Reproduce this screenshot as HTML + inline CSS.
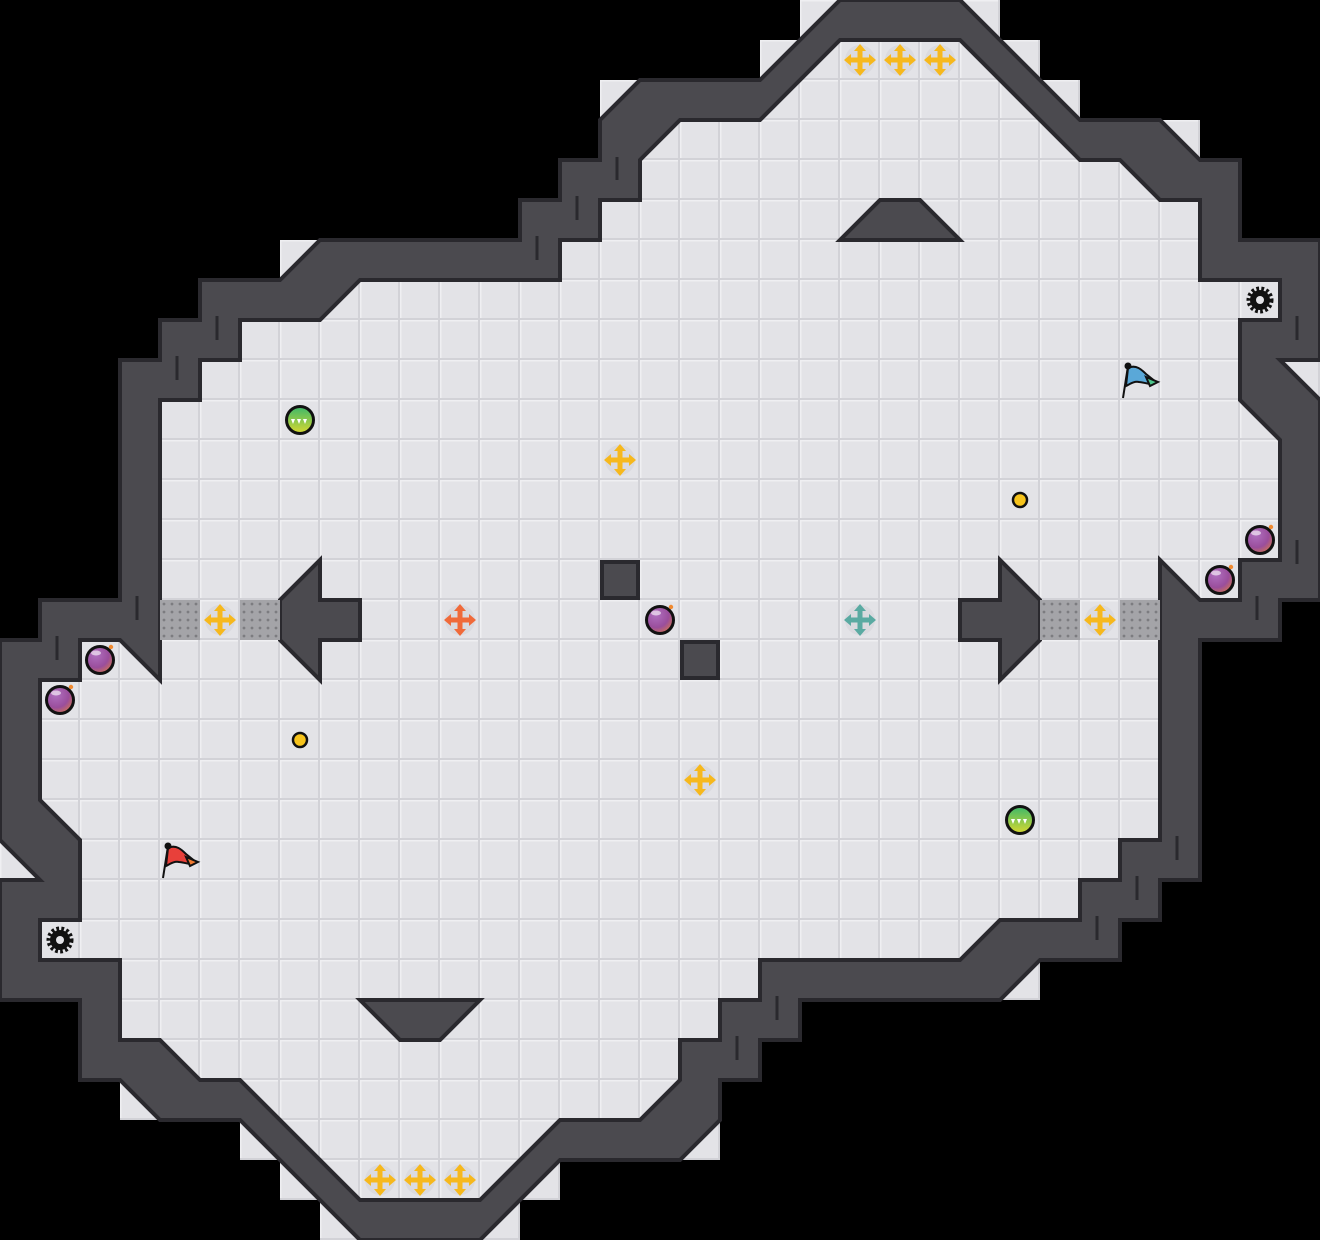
<!DOCTYPE html>
<html><head><meta charset="utf-8"><style>html,body{margin:0;padding:0;background:#000}svg{display:block}</style></head>
<body>
<svg width="1320" height="1240" viewBox="0 0 1320 1240" xmlns="http://www.w3.org/2000/svg">
<defs>
<pattern id="fl" width="40" height="40" patternUnits="userSpaceOnUse">
<rect width="40" height="40" fill="#e3e3e7"/>
<rect x="0" y="0" width="40" height="1.5" fill="#efeff2"/>
<rect x="0" y="0" width="1.5" height="40" fill="#efeff2"/>
<rect x="0" y="38" width="40" height="2" fill="#d2d2d7"/>
<rect x="38" y="0" width="2" height="40" fill="#d2d2d7"/>
</pattern>
<pattern id="gt" width="8" height="8" patternUnits="userSpaceOnUse">
<rect width="8" height="8" fill="#a4a4a8"/>
<circle cx="4" cy="4" r="1.4" fill="#7c7c80"/>
</pattern>
<radialGradient id="bomb" cx="0.35" cy="0.3" r="0.8">
<stop offset="0" stop-color="#b070c0"/><stop offset="0.6" stop-color="#9a4e9c"/><stop offset="1" stop-color="#d8784a"/>
</radialGradient>
<linearGradient id="grn" x1="0" y1="0" x2="0" y2="1">
<stop offset="0" stop-color="#3cb86a"/><stop offset="1" stop-color="#d8d830"/>
</linearGradient>
<g id="arrows">
<rect x="-2.5" y="-10" width="5" height="20"/>
<rect x="-10" y="-2.5" width="20" height="5"/>
<polygon points="0,-16 -6,-9 6,-9"/>
<polygon points="0,16 -6,9 6,9"/>
<polygon points="-16,0 -9,-6 -9,6"/>
<polygon points="16,0 9,-6 9,6"/>
</g>
<g id="boost"><circle r="15" fill="#d6d6dc" opacity="0.7"/><use href="#arrows" fill="#f6b81c"/></g>
<g id="bomb1"><circle r="13.5" fill="url(#bomb)" stroke="#111" stroke-width="3"/><ellipse cx="-4" cy="-7" rx="5" ry="2.5" fill="#fff" opacity="0.6"/><circle cx="11" cy="-13" r="2.2" fill="#f08a30"/></g>
<g id="pw"><circle r="13.5" fill="url(#grn)" stroke="#111" stroke-width="3"/><polygon points="-9,-1 -5,-1 -7,4" fill="#fff"/><polygon points="-3,-1 1,-1 -1,4" fill="#fff"/><polygon points="3,-1 7,-1 5,4" fill="#fff"/></g>
<g id="ball"><circle r="7" fill="#f7c41c" stroke="#111" stroke-width="2.5"/></g>
<g id="gear"><circle r="11" fill="none" stroke="#111" stroke-width="5" stroke-dasharray="2.6 2.2"/><circle r="10" fill="#111"/><circle r="4" fill="#e3e3e7"/></g>
</defs>

<rect width="1320" height="1240" fill="url(#fl)"/>
<path fill-rule="evenodd" fill="#000" d="M0,0H1320V1240H0Z
M900,0 L840,0 L760,80 L640,80 L600,120 L600,160 L560,160 L560,200 L520,200 L520,240 L320,240 L280,280 L200,280 L200,320 L160,320 L160,360 L120,360 L120,600 L40,600 L40,640 L0,640 L0,840 L40,880 L0,880 L0,1000 L80,1000 L80,1080 L120,1080 L160,1120 L240,1120 L360,1240 L480,1240 L560,1160 L680,1160 L720,1120 L720,1080 L760,1080 L760,1040 L800,1040 L800,1000 L1000,1000 L1040,960 L1120,960 L1120,920 L1160,920 L1160,880 L1200,880 L1200,640 L1280,640 L1280,600 L1320,600 L1320,400 L1280,360 L1320,360 L1320,240 L1240,240 L1240,160 L1200,160 L1160,120 L1080,120 L960,0 Z"/>
<g fill="url(#fl)">
<rect x="800" y="0" width="40" height="40"/><rect x="760" y="40" width="40" height="40"/><rect x="600" y="80" width="40" height="40"/><rect x="280" y="240" width="40" height="40"/><rect x="0" y="840" width="40" height="40"/><rect x="120" y="1080" width="40" height="40"/><rect x="240" y="1120" width="40" height="40"/><rect x="280" y="1160" width="40" height="40"/><rect x="320" y="1200" width="40" height="40"/>
<rect x="480" y="1200" width="40" height="40"/><rect x="520" y="1160" width="40" height="40"/><rect x="680" y="1120" width="40" height="40"/><rect x="1000" y="960" width="40" height="40"/><rect x="1280" y="360" width="40" height="40"/><rect x="1160" y="120" width="40" height="40"/><rect x="1040" y="80" width="40" height="40"/><rect x="1000" y="40" width="40" height="40"/><rect x="960" y="0" width="40" height="40"/>
</g>

<path fill-rule="evenodd" fill="#4b4a4f" stroke="#2a292e" stroke-width="4" stroke-linejoin="miter" d="
M900,0 L840,0 L760,80 L640,80 L600,120 L600,160 L560,160 L560,200 L520,200 L520,240 L320,240 L280,280 L200,280 L200,320 L160,320 L160,360 L120,360 L120,600 L40,600 L40,640 L0,640 L0,840 L40,880 L0,880 L0,1000 L80,1000 L80,1080 L120,1080 L160,1120 L240,1120 L360,1240 L480,1240 L560,1160 L680,1160 L720,1120 L720,1080 L760,1080 L760,1040 L800,1040 L800,1000 L1000,1000 L1040,960 L1120,960 L1120,920 L1160,920 L1160,880 L1200,880 L1200,640 L1280,640 L1280,600 L1320,600 L1320,400 L1280,360 L1320,360 L1320,240 L1240,240 L1240,160 L1200,160 L1160,120 L1080,120 L960,0 Z
M900,40 L840,40 L760,120 L680,120 L640,160 L640,200 L600,200 L600,240 L560,240 L560,280 L360,280 L320,320 L240,320 L240,360 L200,360 L200,400 L160,400 L160,680 L120,640 L80,640 L80,680 L40,680 L40,800 L80,840 L80,920 L40,920 L40,960 L120,960 L120,1040 L160,1040 L200,1080 L240,1080 L360,1200 L480,1200 L560,1120 L640,1120 L680,1080 L680,1040 L720,1040 L720,1000 L760,1000 L760,960 L960,960 L1000,920 L1080,920 L1080,880 L1120,880 L1120,840 L1160,840 L1160,560 L1200,600 L1240,600 L1240,560 L1280,560 L1280,440 L1240,400 L1240,320 L1280,320 L1280,280 L1200,280 L1200,200 L1160,200 L1120,160 L1080,160 L960,40 Z"/>
<g stroke="#2a292e" stroke-width="3">
<line x1="617" y1="157" x2="617" y2="180"/><line x1="577" y1="196" x2="577" y2="220"/><line x1="537" y1="236" x2="537" y2="260"/>
<line x1="217" y1="316" x2="217" y2="340"/><line x1="177" y1="356" x2="177" y2="380"/><line x1="137" y1="596" x2="137" y2="620"/><line x1="57" y1="636" x2="57" y2="660"/>
<line x1="1297" y1="316" x2="1297" y2="340"/>
<line x1="1297" y1="540" x2="1297" y2="564"/><line x1="1257" y1="596" x2="1257" y2="620"/><line x1="1017" y1="596" x2="1017" y2="620"/>
<line x1="1177" y1="836" x2="1177" y2="860"/><line x1="1137" y1="876" x2="1137" y2="900"/><line x1="1097" y1="916" x2="1097" y2="940"/>
<line x1="777" y1="996" x2="777" y2="1020"/><line x1="737" y1="1036" x2="737" y2="1060"/>
</g>
<g fill="#4b4a4f" stroke="#2a292e" stroke-width="4" stroke-linejoin="miter">
<polygon points="320,560 320,600 360,600 360,640 320,640 320,680 280,640 280,600"/>
<polygon points="1000,680 1000,640 960,640 960,600 1000,600 1000,560 1040,600 1040,640"/>
<polygon points="360,1000 480,1000 440,1040 400,1040"/>
<polygon points="960,240 840,240 880,200 920,200"/>
<rect x="602" y="562" width="36" height="36"/>
<rect x="682" y="642" width="36" height="36"/>
</g>
<g fill="url(#gt)"><rect x="160" y="600" width="40" height="40"/><rect x="240" y="600" width="40" height="40"/><rect x="1040" y="600" width="40" height="40"/><rect x="1120" y="600" width="40" height="40"/></g>

<use href="#boost" x="220" y="620"/><use href="#boost" x="1100" y="620"/>
<use href="#boost" x="620" y="460"/><use href="#boost" x="700" y="780"/>
<use href="#boost" x="860" y="60"/><use href="#boost" x="900" y="60"/><use href="#boost" x="940" y="60"/>
<use href="#boost" x="380" y="1180"/><use href="#boost" x="420" y="1180"/><use href="#boost" x="460" y="1180"/>
<g transform="translate(460,620)"><circle r="15" fill="#d6d6dc" opacity="0.7"/><use href="#arrows" fill="#f06a3a"/></g>
<g transform="translate(860,620)"><circle r="15" fill="#d6d6dc" opacity="0.7"/><use href="#arrows" fill="#5aaaa2"/></g>
<use href="#bomb1" x="100" y="660"/><use href="#bomb1" x="60" y="700"/><use href="#bomb1" x="660" y="620"/><use href="#bomb1" x="1260" y="540"/><use href="#bomb1" x="1220" y="580"/>
<use href="#pw" x="300" y="420"/><use href="#pw" x="1020" y="820"/>
<use href="#ball" x="1020" y="500"/><use href="#ball" x="300" y="740"/>
<use href="#gear" x="1260" y="300"/><use href="#gear" x="60" y="940"/>
<g transform="translate(180,860)" stroke="#111" stroke-width="2">
<line x1="-17" y1="18" x2="-12" y2="-14"/>
<path d="M-12,-12 C-4,-16 2,-10 6,-6 L16,2 C10,6 4,2 -1,2 C-6,1 -10,4 -14,6 Z" fill="#e8403a"/>
<path d="M6,-3 L18,2 L10,6 Z" fill="#f07a30"/>
<circle cx="-12" cy="-14" r="2.5" fill="#111"/>
</g>
<g transform="translate(1140,380)" stroke="#111" stroke-width="2">
<line x1="-17" y1="18" x2="-12" y2="-14"/>
<path d="M-12,-12 C-4,-16 2,-10 6,-6 L16,2 C10,6 4,2 -1,2 C-6,1 -10,4 -14,6 Z" fill="#5aa8d8"/>
<path d="M6,-3 L18,2 L10,6 Z" fill="#4cc48a"/>
<circle cx="-12" cy="-14" r="2.5" fill="#111"/>
</g>
</svg>
</body></html>
